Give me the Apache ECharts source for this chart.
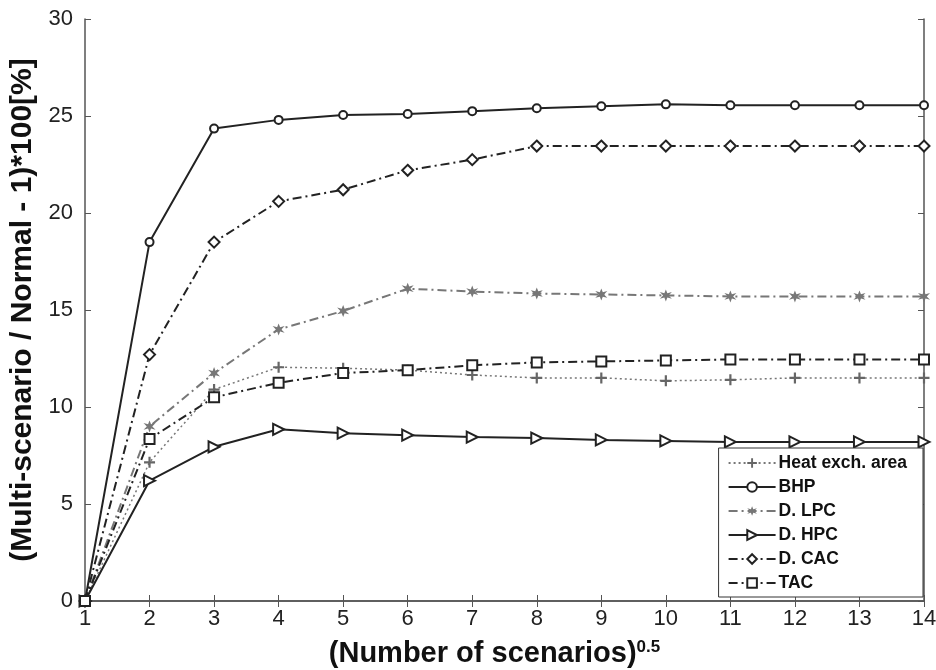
<!DOCTYPE html>
<html>
<head>
<meta charset="utf-8">
<script src="https://cdn.jsdelivr.net/npm/echarts@6/dist/echarts.min.js"></script>
<style>
  html, body { margin: 0; padding: 0; background: #fff; }
  #myChart { width: 936px; height: 670px; }
</style>
</head>
<body>
<div id="myChart"></div>
<script>
// x values (square root of number of scenarios)
var scenarios = [1, 2, 3, 4, 5, 6, 7, 8, 9, 10, 11, 12, 13, 14];
var heatArea = [0, 7.15, 10.9, 12.05, 12.0, 11.9, 11.65, 11.5, 11.5, 11.35, 11.4, 11.5, 11.5, 11.5];
var bhp = [0, 18.5, 24.35, 24.8, 25.05, 25.1, 25.25, 25.4, 25.5, 25.6, 25.55, 25.55, 25.55, 25.55];
var dLpc = [0, 9.0, 11.75, 14.0, 14.95, 16.1, 15.95, 15.85, 15.8, 15.75, 15.7, 15.7, 15.7, 15.7];
var dHpc = [0, 6.2, 7.95, 8.85, 8.65, 8.55, 8.45, 8.4, 8.3, 8.25, 8.2, 8.2, 8.2, 8.2];
var dCac = [0, 12.7, 18.5, 20.6, 21.2, 22.2, 22.75, 23.45, 23.45, 23.45, 23.45, 23.45, 23.45, 23.45];
var tac = [0, 8.35, 10.5, 11.25, 11.75, 11.9, 12.15, 12.3, 12.35, 12.4, 12.45, 12.45, 12.45, 12.45];
var seriesNames = ['Heat exch. area', 'BHP', 'D. LPC', 'D. HPC', 'D. CAC', 'TAC'];

function pairs(arr) {
  return scenarios.map(function (x, i) { return [x, arr[i]]; });
}

var plusPath = 'path://M4,0 L6,0 L6,4 L10,4 L10,6 L6,6 L6,10 L4,10 L4,6 L0,6 L0,4 L4,4 Z';
var starPath = 'path://M5,0 L6.2,3.2 L9.8,2.2 L7.2,5 L9.8,7.8 L6.2,6.8 L5,10 L3.8,6.8 L0.2,7.8 L2.8,5 L0.2,2.2 L3.8,3.2 Z';
var dashDot = [9, 4, 2, 4];

var myChart = echarts.init(document.getElementById('myChart'));
var axisFont = 'Arial, "Liberation Sans", sans-serif';

myChart.setOption({
  backgroundColor: '#fff',
  animation: false,
  grid: { left: 85, right: 12, top: 19, bottom: 69, containLabel: false, outerBoundsMode: 'none' },
  legend: {
    orient: 'vertical',
    right: 13,
    bottom: 73,
    width: 210,
    itemWidth: 47,
    itemHeight: 12,
    itemGap: 6,
    padding: [6, 16, 5, 9],
    borderColor: '#333',
    borderWidth: 1,
    backgroundColor: '#fff',
    data: seriesNames,
    textStyle: { fontFamily: axisFont, fontWeight: 'bold', fontSize: 17.5, color: '#111', padding: [0, 0, 0, -2] }
  },
  xAxis: [
    {
      type: 'value',
      min: 1, max: 14, interval: 1,
      name: '{n|(Number of scenarios)}{s|0.5}',
      nameLocation: 'middle',
      nameGap: 38,
      nameTextStyle: {
        padding: [0, 20, 0, 0],
        rich: {
          n: { fontFamily: axisFont, fontWeight: 'bold', fontSize: 29, color: '#111' },
          s: { fontFamily: axisFont, fontWeight: 'bold', fontSize: 17, color: '#111', verticalAlign: 'top', padding: [0, 0, 12, 0] }
        }
      },
      axisLine: { lineStyle: { color: '#555', width: 1.5 } },
      axisTick: { inside: true, length: 6, lineStyle: { color: '#555' } },
      axisLabel: { fontFamily: axisFont, fontSize: 22, color: '#222', margin: 7 },
      splitLine: { show: false }
    },
    {
      type: 'value', position: 'top',
      min: 1, max: 14, interval: 1,
      axisLine: { lineStyle: { color: '#555', width: 1.5 } },
      axisTick: { inside: true, length: 6, lineStyle: { color: '#555' } },
      axisLabel: { show: false },
      splitLine: { show: false }
    }
  ],
  yAxis: [
    {
      type: 'value',
      min: 0, max: 30, interval: 5,
      name: '(Multi-scenario / Normal - 1)*100[%]',
      nameLocation: 'middle',
      nameGap: 43,
      nameTextStyle: { fontFamily: axisFont, fontWeight: 'bold', fontSize: 30, color: '#111' },
      axisLine: { show: true, lineStyle: { color: '#555', width: 1.5 } },
      axisTick: { show: true, inside: true, length: 6, lineStyle: { color: '#555' } },
      axisLabel: { fontFamily: axisFont, fontSize: 22, color: '#222', margin: 12 },
      splitLine: { show: false }
    },
    {
      type: 'value', position: 'right',
      min: 0, max: 30, interval: 5,
      axisLine: { show: true, lineStyle: { color: '#555', width: 1.5 } },
      axisTick: { show: true, inside: true, length: 6, lineStyle: { color: '#555' } },
      axisLabel: { show: false },
      splitLine: { show: false }
    }
  ],
  series: [
    {
      name: 'Heat exch. area', type: 'line', data: pairs(heatArea),
      symbol: plusPath, symbolSize: 11,
      lineStyle: { color: '#777', width: 1.5, type: [2, 3] },
      itemStyle: { color: '#666', borderWidth: 0 }
    },
    {
      name: 'BHP', type: 'line', data: pairs(bhp),
      symbol: 'emptyCircle', symbolSize: 8,
      lineStyle: { color: '#222', width: 2, type: 'solid' },
      itemStyle: { color: '#222', borderColor: '#222', borderWidth: 1.5 }
    },
    {
      name: 'D. LPC', type: 'line', data: pairs(dLpc),
      symbol: starPath, symbolSize: 12,
      lineStyle: { color: '#777', width: 2, type: dashDot },
      itemStyle: { color: '#777', borderWidth: 0 }
    },
    {
      name: 'D. HPC', type: 'line', data: pairs(dHpc),
      symbol: 'emptyTriangle', symbolSize: 11, symbolRotate: -90,
      lineStyle: { color: '#222', width: 2, type: 'solid' },
      itemStyle: { color: '#222', borderColor: '#222', borderWidth: 1.5 }
    },
    {
      name: 'D. CAC', type: 'line', data: pairs(dCac),
      symbol: 'emptyDiamond', symbolSize: 11,
      lineStyle: { color: '#222', width: 2, type: dashDot },
      itemStyle: { color: '#222', borderColor: '#222', borderWidth: 1.5 }
    },
    {
      name: 'TAC', type: 'line', data: pairs(tac),
      symbol: 'emptyRect', symbolSize: 10,
      lineStyle: { color: '#222', width: 2, type: dashDot },
      itemStyle: { color: '#222', borderColor: '#222', borderWidth: 1.5 }
    }
  ]
});
</script>
</body>
</html>
